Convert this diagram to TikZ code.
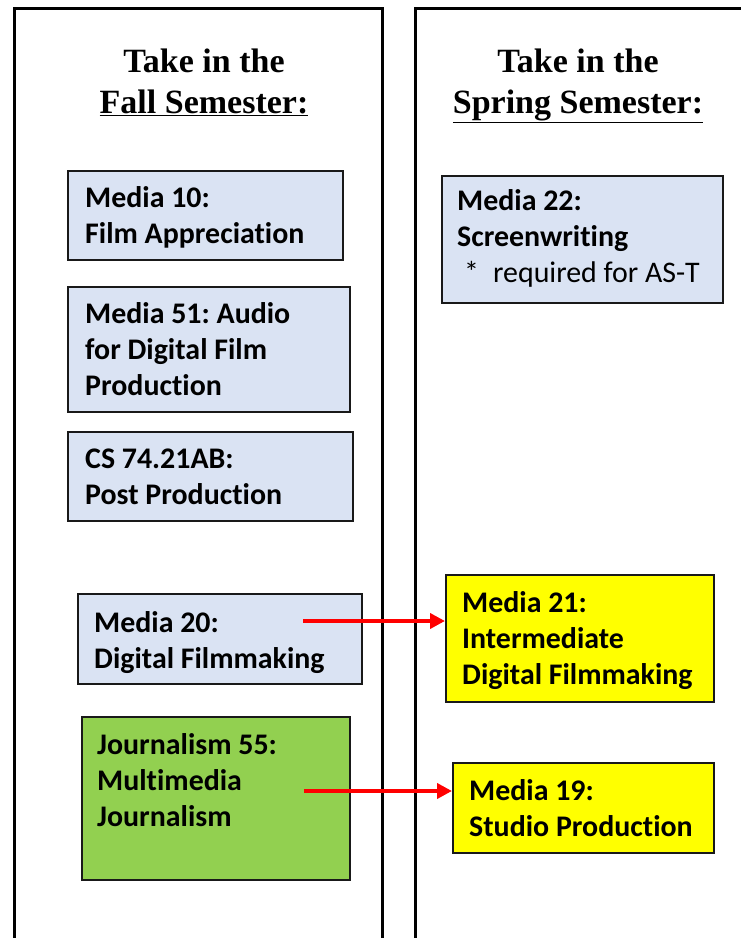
\documentclass[tikz,border=0pt]{standalone}
\usepackage{fontspec}
\setmainfont{Liberation Serif}
\setsansfont[Ligatures=NoCommon]{Carlito}
\usetikzlibrary{arrows.meta}
\definecolor{boxblue}{HTML}{DAE3F3}
\definecolor{boxgreen}{HTML}{92D050}
\definecolor{boxyellow}{HTML}{FFFF00}
\definecolor{arrred}{HTML}{FF0000}
\frenchspacing
\begin{document}
\begin{tikzpicture}[x=1pt,y=-1pt,
  panel/.style={line width=3pt},
  course/.style={draw=black!90,line width=2pt,inner sep=0pt,anchor=north west},
  ctext/.style={anchor=base west,inner sep=0pt,align=flush left,text width=270pt,
    font=\sffamily\bfseries\fontsize{29.9}{36}\selectfont},
  ttext/.style={anchor=base,inner sep=0pt,font=\rmfamily\bfseries\fontsize{34}{41}\selectfont},
  link/.style={arrred,line width=4pt,-{Triangle[length=15pt,width=15pt]}}
]
\useasboundingbox (0,0) rectangle (740,938);
\fill[white] (0,0) rectangle (740,938);
% panels
\draw[panel] (14,945) -- (14,8) -- (382,8) -- (382,945);
\draw[panel] (415,945) -- (415,8) -- (750,8);
% titles
\node[ttext] (t1a) at (204,72) {Take in the};
\node[ttext] (t1b) at (204,113) {\underline{Fall Semester:}};
\node[ttext] (t2a) at (578,72) {Take in the};
\node[ttext] (t2b) at (578,113) {\underline{Spring Semester:}};
% left boxes
\node[course,fill=boxblue,minimum width=275pt,minimum height=89pt] (m10) at (67,170) {};
\node[ctext] (m10t) at (85,207) {Media 10:\\Film Appreciation};
\node[course,fill=boxblue,minimum width=282pt,minimum height=125pt] (m51) at (67,286) {};
\node[ctext] (m51t) at (85,323) {Media 51: Audio\\for Digital Film\\Production};
\node[course,fill=boxblue,minimum width=285pt,minimum height=89pt] (cs74) at (67,431) {};
\node[ctext] (cs74t) at (85,468) {CS 74.21AB:\\Post Production};
\node[course,fill=boxblue,minimum width=284pt,minimum height=90pt] (m20) at (77,593) {};
\node[ctext] (m20t) at (94,632) {Media 20:\\Digital Filmmaking};
\node[course,fill=boxgreen,minimum width=268pt,minimum height=163pt] (j55) at (81,716) {};
\node[ctext] (j55t) at (97,754) {Journalism 55:\\Multimedia\\Journalism};
% right boxes
\node[course,fill=boxblue,minimum width=281pt,minimum height=127pt] (m22) at (441,175) {};
\node[ctext] (m22t) at (457,210) {Media 22:\\Screenwriting\\\mdseries\hspace*{7pt}*\hspace{14pt}required for AS-T};
\node[course,fill=boxyellow,minimum width=268pt,minimum height=127pt] (m21) at (445,574) {};
\node[ctext] (m21t) at (462,612) {Media 21:\\Intermediate\\Digital Filmmaking};
\node[course,fill=boxyellow,minimum width=261pt,minimum height=90pt] (m19) at (452,762) {};
\node[ctext] (m19t) at (469,800) {Media 19:\\Studio Production};
% arrows
\coordinate (a1) at (303,621);
\coordinate (a2) at (304,791);
\draw[link] (a1) -- (m21.west |- a1);
\draw[link] (a2) -- (m19.west |- a2);
\end{tikzpicture}
\end{document}
